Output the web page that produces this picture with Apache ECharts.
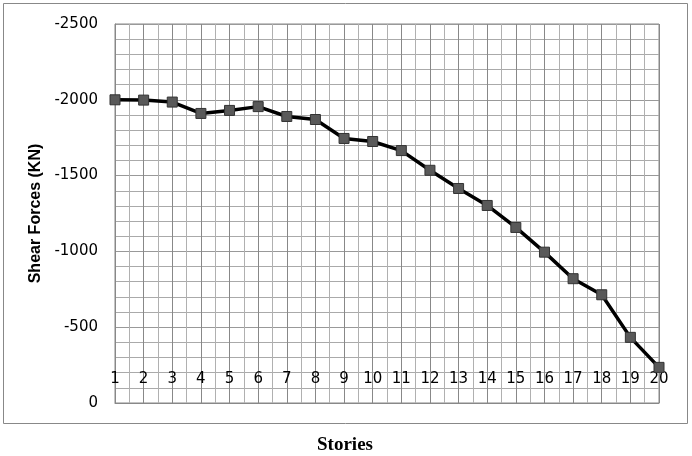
<!DOCTYPE html>
<html>
<head>
<meta charset="utf-8">
<script src="https://cdn.jsdelivr.net/npm/echarts@6/dist/echarts.min.js"></script>
<style>html,body{margin:0;padding:0;background:#fff}#c{width:692px;height:456px}</style>
</head>
<body>
<div id="c"></div>
<script>
var stories = ['1','2','3','4','5','6','7','8','9','10','11','12','13','14','15','16','17','18','19','20'];
var shearForces = [-2000,-1998,-1985,-1910,-1930,-1955,-1890,-1870,-1745,-1725,-1665,-1535,-1415,-1303,-1158,-995,-820,-714,-433,-235];
var yTicks = [-2500,-2000,-1500,-1000,-500,0];

var chart = echarts.init(document.getElementById('c'), null, {renderer:'canvas'});
var pts = stories.map(function(s,i){ return [i+1, shearForces[i]]; });
chart.setOption({
  animation:false,
  backgroundColor:'#fff',
  grid:{left:115,right:33,top:24,bottom:53,show:true,borderColor:'#888',borderWidth:1,backgroundColor:'transparent'},
  xAxis:{
    type:'value',min:1,max:stories.length,interval:1,
    axisLine:{show:true,onZero:false,lineStyle:{color:'#888',width:1}},
    axisTick:{show:false},
    axisLabel:{margin:-31,fontFamily:'DejaVu Sans',fontSize:15,color:'#000',
      formatter:function(v){return stories[v-1]||'';}},
    splitLine:{show:true,lineStyle:{color:'#888',width:1}},
    minorTick:{show:false,splitNumber:2},
    minorSplitLine:{show:true,lineStyle:{color:'#b0b0b0',width:1}}
  },
  yAxis:{
    type:'value',inverse:true,min:yTicks[0],max:yTicks[yTicks.length-1],interval:500,
    name:'Shear Forces (KN)',nameLocation:'middle',nameGap:70,
    nameTextStyle:{fontFamily:'Liberation Sans',fontWeight:'bold',fontSize:16,color:'#000'},
    axisLine:{show:true,lineStyle:{color:'#888',width:1}},
    axisTick:{show:false},
    axisLabel:{margin:17,fontFamily:'DejaVu Sans',fontSize:15,color:'#000',
      formatter:function(v){return String(v);}},
    splitLine:{show:true,lineStyle:{color:'#999',width:1}},
    minorTick:{show:false,splitNumber:5},
    minorSplitLine:{show:true,lineStyle:{color:'#aaa',width:1}}
  },
  series:[{
    type:'line',data:pts,
    lineStyle:{color:'#000',width:3.5},
    symbol:'rect',symbolSize:10,
    itemStyle:{color:'#595959',borderColor:'#333',borderWidth:1},
    z:5
  }],
  graphic:[
    {type:'rect',shape:{x:3.5,y:3.5,width:684,height:420},style:{fill:'none',stroke:'#888',lineWidth:1},silent:true},
    {type:'text',x:345,y:445,style:{text:'Stories',font:'bold 19px "Liberation Serif"',fill:'#000',textAlign:'center',textVerticalAlign:'middle'}}
  ]
});
</script>
</body>
</html>
